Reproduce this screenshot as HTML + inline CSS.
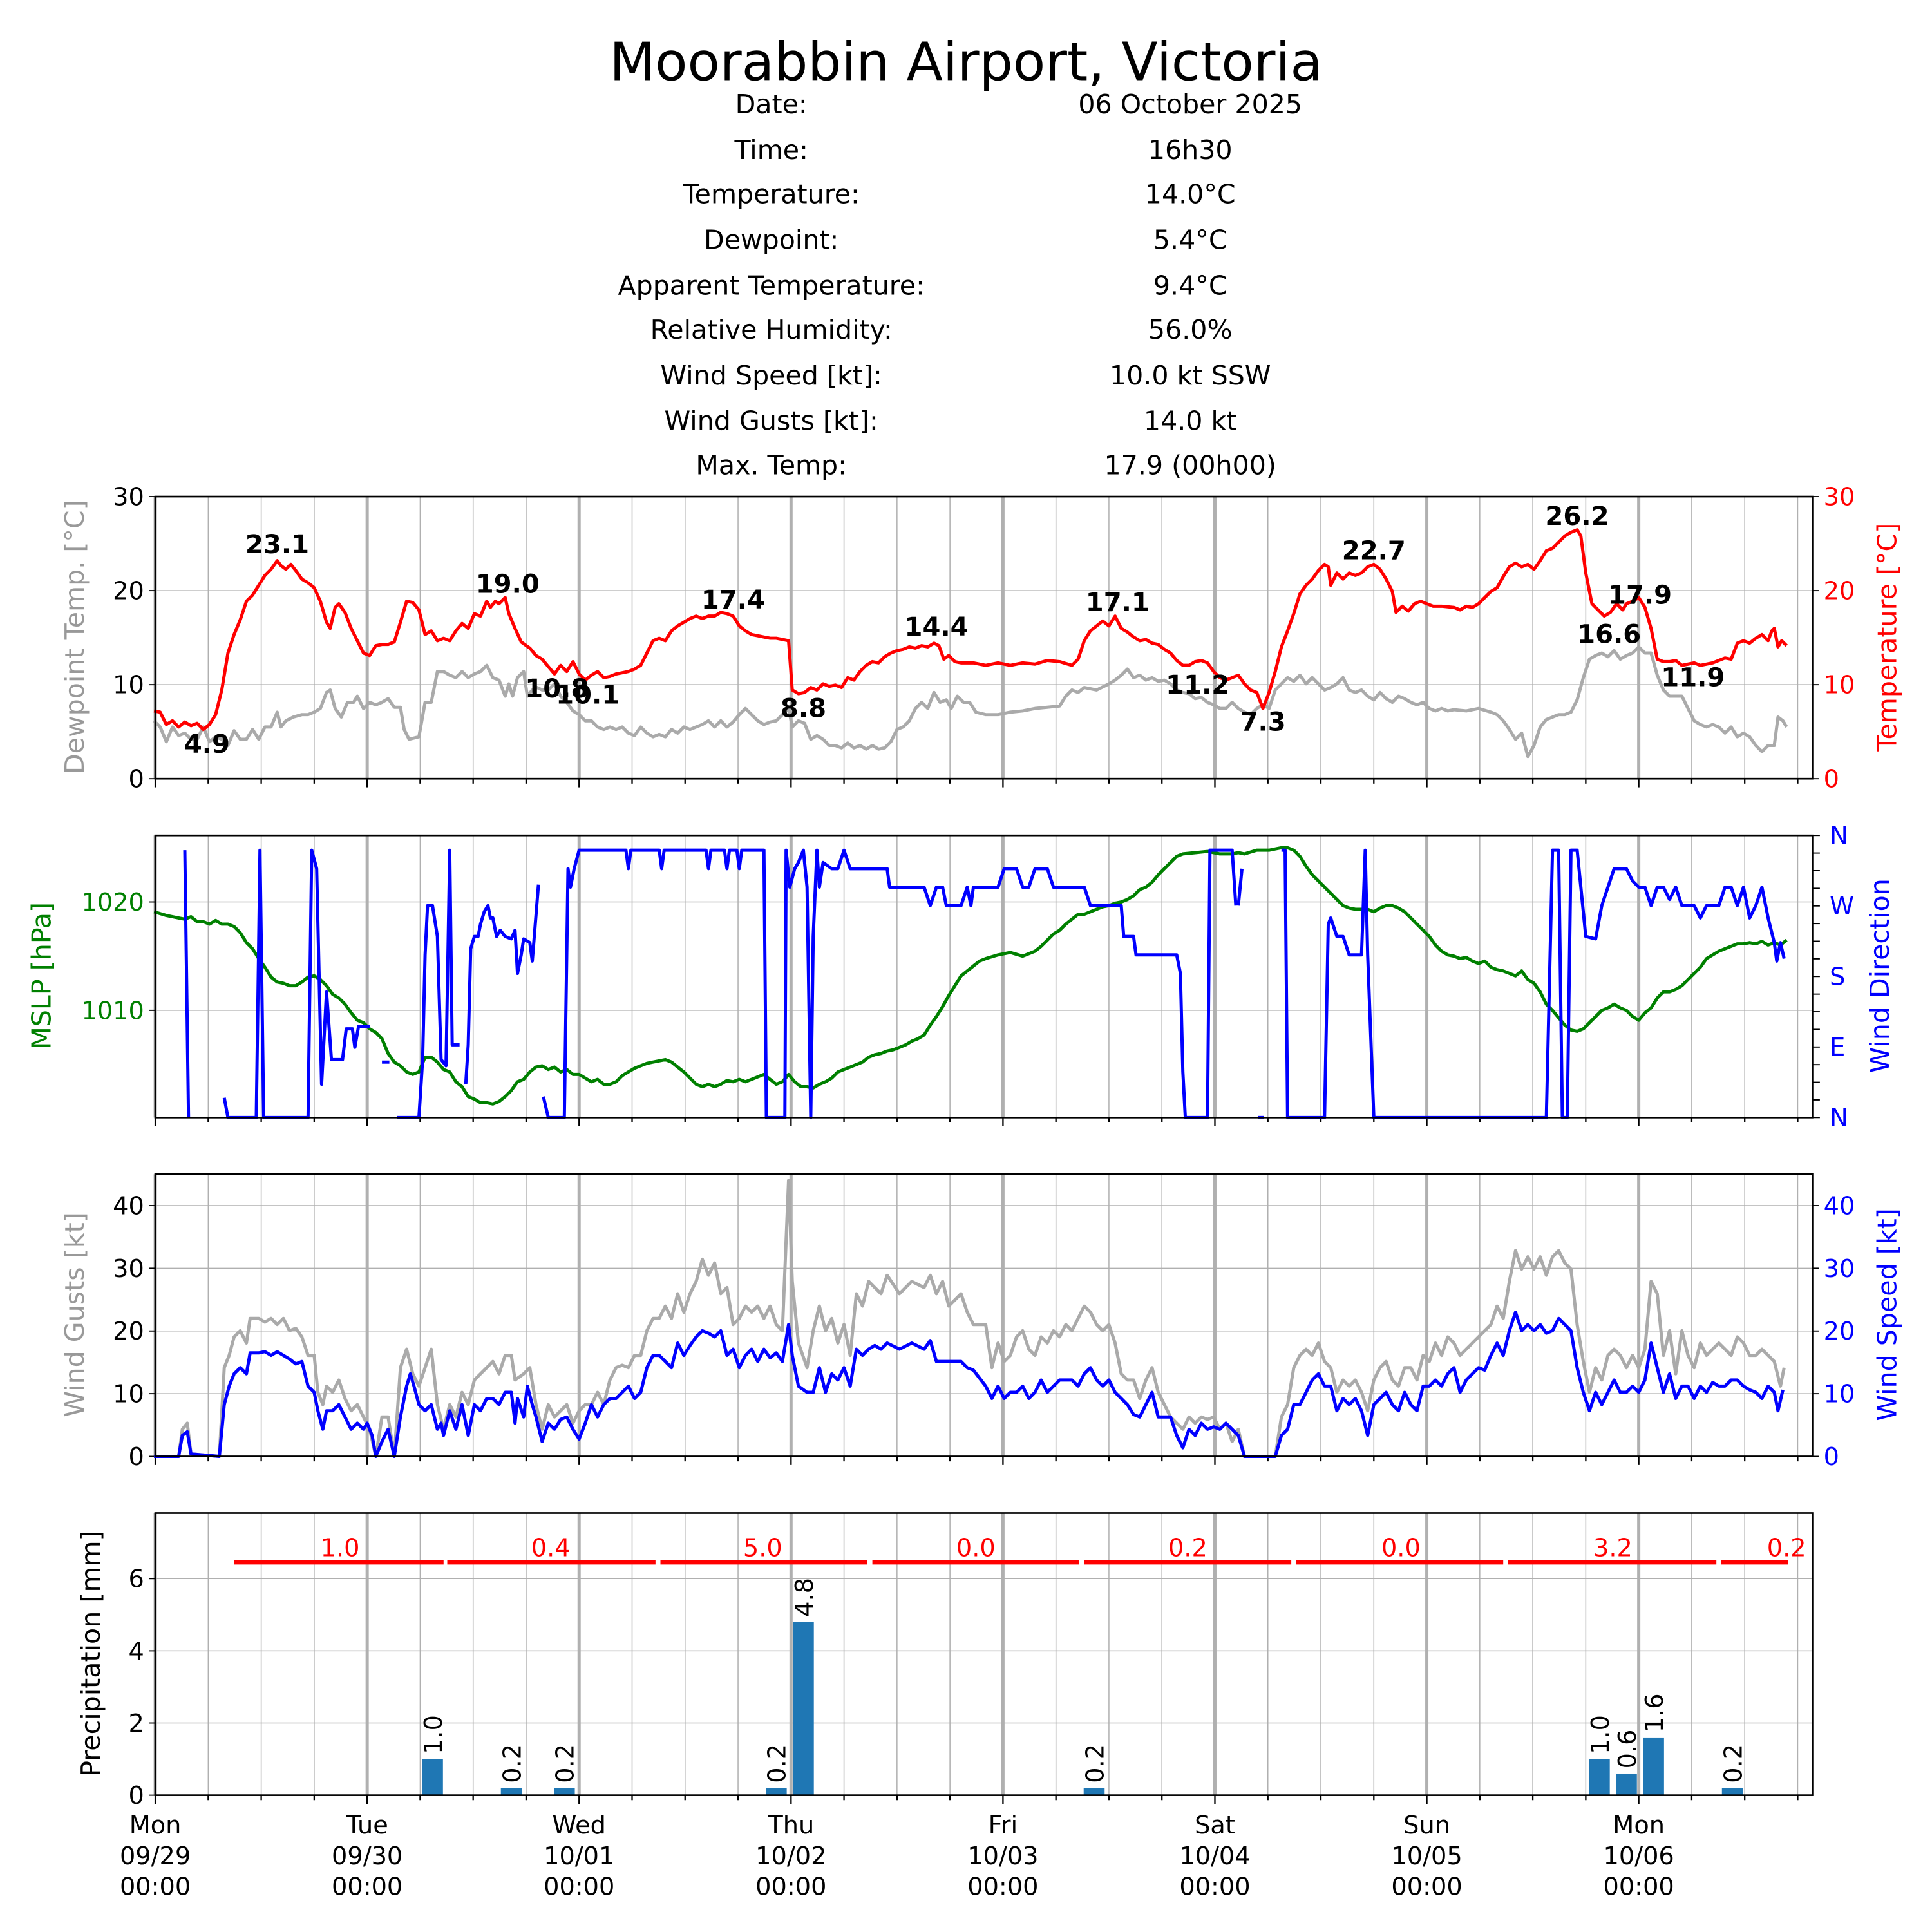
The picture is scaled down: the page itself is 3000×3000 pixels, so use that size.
<!DOCTYPE html>
<html><head><meta charset="utf-8"><style>
html,body{margin:0;padding:0;background:#fff;width:3000px;height:3000px;overflow:hidden}
svg{display:block}
text{font-family:"DejaVu Sans","Liberation Sans",sans-serif}
</style></head><body>
<svg id="s" width="3000" height="3000" viewBox="0 0 1568 1568" xmlns="http://www.w3.org/2000/svg">
<rect width="1568" height="1568" fill="#fff"/>
<g id="g"></g>
<text x="784" y="65" font-size="43" text-anchor="middle">Moorabbin Airport, Victoria</text>
<g font-size="21.5" text-anchor="middle">
<text x="626" y="92">Date:</text><text x="966" y="92">06 October 2025</text>
<text x="626" y="129">Time:</text><text x="966" y="129">16h30</text>
<text x="626" y="165">Temperature:</text><text x="966" y="165">14.0°C</text>
<text x="626" y="202">Dewpoint:</text><text x="966" y="202">5.4°C</text>
<text x="626" y="239">Apparent Temperature:</text><text x="966" y="239">9.4°C</text>
<text x="626" y="275">Relative Humidity:</text><text x="966" y="275">56.0%</text>
<text x="626" y="312">Wind Speed [kt]:</text><text x="966" y="312">10.0 kt SSW</text>
<text x="626" y="349">Wind Gusts [kt]:</text><text x="966" y="349">14.0 kt</text>
<text x="626" y="385">Max. Temp:</text><text x="966" y="385">17.9 (00h00)</text>
</g>
<g font-size="21.5">
<text transform="translate(68,517) rotate(-90)" text-anchor="middle" fill="#999">Dewpoint Temp. [°C]</text>
<text transform="translate(1539,517) rotate(-90)" text-anchor="middle" fill="red">Temperature [°C]</text>
<text transform="translate(41,792) rotate(-90)" text-anchor="middle" fill="green">MSLP [hPa]</text>
<text transform="translate(1533,792) rotate(-90)" text-anchor="middle" fill="blue">Wind Direction</text>
<text transform="translate(68,1067) rotate(-90)" text-anchor="middle" fill="#999">Wind Gusts [kt]</text>
<text transform="translate(1539,1067) rotate(-90)" text-anchor="middle" fill="blue">Wind Speed [kt]</text>
<text transform="translate(81,1342) rotate(-90)" text-anchor="middle">Precipitation [mm]</text>
</g>
</svg>
<script>
const NS="http://www.w3.org/2000/svg";const G=document.getElementById('g');
function el(t,a,txt){const e=document.createElementNS(NS,t);for(const k in a)e.setAttribute(k,a[k]);if(txt!==undefined)e.textContent=txt;G.appendChild(e);return e;}
const L=126,R=1471,D=172,FS=20;
const P=[[403,632],[678,907],[953,1182],[1228,1457]];
function pl(pts,col,w){el('polyline',{points:pts.map(p=>p.join(',')).join(' '),fill:'none',stroke:col,'stroke-width':w||2.6,'stroke-linejoin':'round'});}
function pairs(a){const r=[];for(let i=0;i<a.length;i+=2)r.push([a[i],a[i+1]]);return r;}
P.forEach(([t,b],pi)=>{
 for(let h=0;;h+=6){const x=L+h/24*D;if(x>R-5)break;
  const major=h%24==0;
  el('line',{x1:x,y1:t,x2:x,y2:b,stroke:'#b0b0b0','stroke-width':major?2.6:0.8});
  el('line',{x1:x,y1:b,x2:x,y2:b+(major?7:4),stroke:'#000','stroke-width':1.2});
 }
});
function hgrid(pi,ys){ys.forEach(y=>el('line',{x1:L,y1:y,x2:R,y2:y,stroke:'#b0b0b0','stroke-width':0.8}));}
let ys=[0,10,20,30].map(v=>632-v*229/30);hgrid(0,ys);
ys.forEach((y,i)=>{el('line',{x1:L-5,y1:y,x2:L,y2:y,stroke:'#000'});el('line',{x1:R,y1:y,x2:R+5,y2:y,stroke:'#000'});
 el('text',{x:L-9,y:y+7,'font-size':FS,'text-anchor':'end'},String(i*10));el('text',{x:R+9,y:y+7,'font-size':FS,fill:'red'},String(i*10));});
ys=[1010,1020].map(v=>820-(v-1010)*8.8);hgrid(1,ys);
ys.forEach((y,i)=>{el('line',{x1:L-5,y1:y,x2:L,y2:y,stroke:'#000'});el('text',{x:L-9,y:y+7,'font-size':FS,'text-anchor':'end',fill:'green'},i?'1020':'1010');});
for(let k=0;k<=16;k++){const y=907-k*229/16;el('line',{x1:R,y1:y,x2:R+6,y2:y,stroke:'#000'});}
['N','E','S','W','N'].forEach((s,i)=>el('text',{x:R+14,y:907-i*57.25+7,'font-size':FS,fill:'blue'},s));
ys=[0,10,20,30,40].map(v=>1182-v*229/45);hgrid(2,ys);
ys.forEach((y,i)=>{el('line',{x1:L-5,y1:y,x2:L,y2:y,stroke:'#000'});el('line',{x1:R,y1:y,x2:R+5,y2:y,stroke:'#000'});
 el('text',{x:L-9,y:y+7,'font-size':FS,'text-anchor':'end'},String(i*10));el('text',{x:R+9,y:y+7,'font-size':FS,fill:'blue'},String(i*10));});
ys=[0,2,4,6].map(v=>1457-v*29.3);hgrid(3,ys);
ys.forEach((y,i)=>{el('line',{x1:L-5,y1:y,x2:L,y2:y,stroke:'#000'});el('text',{x:L-9,y:y+7,'font-size':FS,'text-anchor':'end'},String(i*2));});
['Mon|09/29','Tue|09/30','Wed|10/01','Thu|10/02','Fri|10/03','Sat|10/04','Sun|10/05','Mon|10/06'].forEach((s,i)=>{const x=L+i*D;const [a,b]=s.split('|');
 el('text',{x:x,y:1488,'font-size':FS,'text-anchor':'middle'},a);el('text',{x:x,y:1513,'font-size':FS,'text-anchor':'middle'},b);el('text',{x:x,y:1538,'font-size':FS,'text-anchor':'middle'},'00:00');});
const temp=pairs([125,577,130,578,135,588,140,585,145,590,150,586,155,589,160,587,165,592,170,588,175,580,180,560,185,530,190,515,195,503,200,488,205,483,210,475,215,467,220,462,225,455,228,459,232,462,236,458,240,463,245,470,250,473,255,477,260,488,265,505,268,510,272,493,275,490,280,497,285,510,290,520,295,530,300,532,305,524,310,523,315,523,320,521,325,505,330,488,335,489,340,495,345,515,350,512,355,520,360,518,365,520,370,512,375,506,380,510,385,498,390,500,395,488,398,493,402,488,405,490,410,485,413,498,418,510,423,521,430,526,435,532,440,535,445,541,450,547,455,540,460,545,465,537,470,547,475,552,480,548,485,545,490,550,495,549,500,547,505,546,510,545,515,543,520,540,525,530,530,520,535,518,540,520,545,512,550,508,555,505,560,502,565,500,570,502,575,500,580,500,585,497,590,498,595,500,600,508,605,512,610,515,615,516,620,517,625,518,630,518,635,519,640,520,643,560,648,563,653,562,658,558,663,560,668,555,673,557,678,556,683,558,688,550,693,552,698,545,703,540,708,537,713,538,718,533,723,530,728,528,733,527,738,525,743,526,748,524,753,525,758,522,762,524,766,535,770,532,775,537,780,538,790,538,800,540,810,538,820,540,830,538,840,539,850,536,860,537,870,540,875,535,880,520,885,512,890,508,895,504,900,508,905,500,910,510,915,513,920,517,925,520,930,519,935,522,940,523,945,527,950,530,955,536,960,540,965,540,970,537,975,536,980,538,985,545,990,550,995,552,1000,550,1005,548,1010,555,1015,560,1020,562,1025,575,1030,562,1035,545,1040,525,1045,512,1050,498,1055,482,1060,475,1065,470,1070,463,1075,458,1078,460,1080,475,1085,465,1090,470,1095,465,1100,467,1105,465,1110,460,1115,458,1120,462,1125,470,1130,480,1133,497,1138,492,1143,496,1148,490,1153,488,1158,490,1163,492,1170,492,1180,493,1185,495,1190,492,1195,493,1200,490,1205,485,1210,480,1215,477,1220,468,1225,460,1230,457,1235,460,1240,458,1245,462,1250,455,1255,447,1260,445,1265,440,1270,435,1275,432,1280,430,1283,435,1287,465,1292,490,1297,495,1302,500,1307,497,1312,490,1317,495,1320,490,1325,488,1330,485,1335,493,1340,510,1345,535,1350,537,1355,537,1360,536,1365,540,1370,539,1375,538,1380,540,1390,538,1400,534,1405,535,1410,522,1415,520,1420,522,1425,518,1430,515,1435,520,1438,512,1440,510,1443,525,1446,520,1450,524]);
const dew=pairs([125,585,130,590,135,602,140,590,145,597,150,595,155,600,160,600,165,590,170,602,175,598,180,600,185,605,190,593,195,600,200,600,205,592,210,600,215,590,220,590,225,578,228,590,232,585,238,582,245,580,250,580,255,578,260,575,265,562,268,560,272,575,277,582,282,570,287,570,290,565,295,575,300,570,305,572,310,570,315,567,320,574,325,574,328,592,332,600,340,598,345,570,350,570,355,545,360,545,365,548,370,550,375,545,380,550,385,547,390,545,395,540,400,550,405,552,410,565,413,555,416,565,420,550,425,545,428,565,432,560,436,558,440,560,445,560,450,555,455,565,460,570,465,577,470,580,475,585,480,585,485,590,490,592,495,590,500,592,505,590,510,595,515,597,520,590,525,595,530,598,535,596,540,598,545,592,550,595,555,590,560,592,565,590,570,588,575,585,580,590,585,585,590,590,595,586,600,580,605,575,610,580,615,585,620,588,625,586,630,585,635,580,640,575,643,590,648,585,653,587,658,600,663,597,668,600,673,605,678,605,683,607,688,603,693,607,698,605,703,608,708,605,713,608,718,607,723,602,728,592,733,590,738,585,743,575,748,570,753,575,758,562,763,570,768,568,772,575,777,565,782,570,787,570,792,578,800,580,810,580,820,578,830,577,840,575,850,574,860,573,865,565,870,560,875,562,880,558,890,560,900,555,905,552,910,548,915,543,920,550,925,548,930,552,935,550,940,553,945,552,950,555,955,560,960,562,965,563,970,567,975,566,980,570,985,572,990,575,995,575,1000,570,1005,575,1010,578,1015,580,1020,575,1025,572,1030,575,1035,560,1040,555,1045,550,1050,553,1055,548,1060,555,1065,550,1070,555,1075,560,1080,558,1085,555,1090,550,1095,560,1100,562,1105,560,1110,565,1115,568,1120,562,1125,567,1130,570,1135,565,1140,567,1145,570,1150,572,1155,570,1160,575,1165,577,1170,575,1175,577,1180,576,1190,577,1200,575,1210,578,1215,580,1220,585,1225,592,1230,600,1235,595,1240,614,1245,605,1250,590,1255,584,1260,582,1265,580,1270,580,1275,578,1280,568,1285,550,1290,535,1295,532,1300,530,1305,533,1310,528,1315,535,1320,532,1325,530,1330,525,1335,530,1340,530,1345,548,1350,560,1355,565,1360,565,1365,565,1370,575,1375,585,1380,588,1385,590,1390,588,1395,590,1400,595,1405,590,1410,598,1415,595,1420,598,1425,605,1430,610,1435,605,1440,605,1443,582,1447,585,1450,590]);
pl(dew,'#aaa');pl(temp,'red');
[['23.1',225,449],['4.9',168,611],['19.0',412,481],['10.8',452,566],['10.1',477,571],['17.4',595,494],['8.8',652,582],['14.4',760,516],['17.1',907,496],['11.2',972,563],['7.3',1025,593],['22.7',1115,454],['26.2',1280,426],['17.9',1331,490],['16.6',1306,522],['11.9',1374,557]].forEach(a=>el('text',{x:a[1],y:a[2],'font-size':21,'font-weight':'bold','text-anchor':'middle'},a[0]));
const ms=pairs([125,740,135,743,145,745,150,746,155,744,160,748,165,748,170,750,175,747,180,750,185,750,190,752,195,757,200,765,205,770,210,778,215,785,220,793,225,797,230,798,235,800,240,800,245,797,250,793,255,792,260,795,265,800,270,807,275,810,280,815,285,822,290,828,295,830,300,835,305,838,310,843,315,855,320,862,325,865,330,870,335,872,340,870,345,858,350,858,355,862,360,868,365,870,370,878,375,882,380,890,385,892,390,895,395,895,400,896,405,894,410,890,415,885,420,878,425,876,430,870,435,866,440,865,445,868,450,866,455,870,460,868,465,872,470,872,475,875,480,878,485,876,490,880,495,880,500,878,505,873,510,870,515,867,520,865,525,863,530,862,535,861,540,860,545,862,550,866,555,870,560,875,565,880,570,882,575,880,580,882,585,880,590,877,595,878,600,876,605,878,610,876,615,874,620,872,625,876,630,880,635,878,640,872,645,878,650,882,655,882,660,883,665,880,670,878,675,875,680,870,685,868,690,866,695,864,700,862,705,858,710,856,715,855,720,853,725,852,730,850,735,848,740,845,745,843,750,840,755,832,760,825,765,817,770,808,775,800,780,792,785,788,790,784,795,780,800,778,810,775,820,773,830,776,840,772,845,768,850,763,855,758,860,755,865,750,870,746,875,742,880,742,885,740,890,738,895,736,900,735,905,733,910,732,915,730,920,727,925,722,930,720,935,716,940,710,945,705,950,700,955,695,960,693,970,692,980,691,990,693,1000,693,1005,692,1010,693,1020,690,1030,690,1035,689,1040,688,1045,688,1050,690,1055,695,1060,703,1065,710,1070,715,1075,720,1080,725,1085,730,1090,735,1095,737,1100,738,1110,738,1115,740,1120,737,1125,735,1130,735,1135,737,1140,740,1145,745,1150,750,1155,755,1160,760,1165,767,1170,772,1175,775,1180,776,1185,778,1190,777,1195,780,1200,782,1205,780,1210,785,1215,787,1220,788,1225,790,1230,792,1235,788,1240,795,1245,798,1250,805,1255,815,1260,820,1265,826,1270,832,1275,836,1280,837,1285,835,1290,830,1295,825,1300,820,1305,818,1310,815,1315,818,1320,820,1325,825,1330,828,1335,822,1340,818,1345,810,1350,805,1355,805,1360,803,1365,800,1370,795,1375,790,1380,785,1385,778,1390,775,1395,772,1400,770,1405,768,1410,766,1415,766,1420,765,1425,766,1430,764,1435,767,1440,765,1445,767,1450,763]);
pl(ms,'green');
const wd=[
[150,690,153,907],
[182,891,185,907,208,907,211,690,214,907,250,907,253,690,257,705,261,880,265,805,269,860,278,860,281,835,286,835,288,850,291,833,300,833],
[310,862,316,862],
[322,907,340,907,343,860,345,775,347,735,351,735,355,760,358,860,362,865,365,690,367,848,373,848],
[378,880,380,848,382,770,385,760,388,760,390,750,393,740,396,735,398,745,400,745,403,760,406,755,410,760,415,762,418,755,420,790,423,775,425,762,430,765,432,780,437,718],
[441,890,445,907,458,907,461,705,463,720,466,705,470,690,508,690,510,705,512,690,535,690,537,705,539,690,573,690,575,705,577,690,588,690,590,705,592,690,598,690,600,705,602,690,620,690,622,907,637,907,638,690,641,720,645,705,648,700,652,690,655,720,658,907,660,760,663,690,665,720,668,700,675,705,680,705,685,690,690,705,720,705,722,720,750,720,755,735,760,720,765,720,768,735,780,735,785,720,788,735,790,720,810,720,815,705,825,705,830,720,835,720,840,705,850,705,855,720,880,720,885,735,910,735,912,760,920,760,922,775,955,775,958,790,960,870,962,907,980,907,982,690,1000,690,1003,735],
[1005,735,1008,705],
[1021,907,1026,907],
[1040,690,1043,690,1045,907,1075,907,1078,750,1080,745,1085,760,1090,760,1095,775,1105,775,1108,690,1110,775,1115,907,1255,907,1260,690,1265,690,1268,907,1272,907,1275,690,1280,690,1283,720,1287,760,1295,762,1300,735,1310,705,1320,705,1325,715,1330,720,1335,720,1340,735,1345,720,1350,720,1355,730,1360,720,1365,735,1375,735,1380,745,1385,735,1395,735,1400,720,1405,720,1410,735,1415,720,1420,745,1425,735,1430,720,1435,745,1440,765,1442,780,1445,765,1448,778]];
wd.forEach(s=>pl(pairs(s),'blue'));
const sp=pairs([125,1182,145,1182,148,1165,152,1162,155,1180,178,1182,182,1140,186,1125,190,1115,195,1110,200,1115,203,1098,210,1098,215,1097,220,1100,225,1097,230,1100,235,1103,240,1107,245,1105,250,1125,255,1130,258,1145,262,1160,265,1145,270,1145,275,1140,280,1150,285,1160,290,1155,295,1160,298,1155,302,1165,305,1182,310,1170,315,1160,320,1182,325,1150,330,1125,333,1115,336,1125,340,1140,345,1145,350,1140,355,1160,358,1155,360,1165,365,1145,370,1160,375,1140,380,1165,385,1140,390,1145,395,1135,400,1135,405,1140,410,1130,415,1130,418,1155,420,1135,425,1150,428,1125,432,1140,435,1150,440,1170,445,1155,450,1160,455,1152,460,1150,465,1160,470,1168,475,1155,480,1140,485,1150,490,1140,495,1135,500,1135,505,1130,510,1125,515,1135,520,1130,525,1110,530,1100,535,1100,540,1105,545,1110,550,1090,555,1100,560,1092,565,1085,570,1080,575,1082,580,1085,585,1080,590,1100,595,1095,600,1110,605,1100,610,1095,615,1105,620,1095,625,1102,630,1098,635,1105,640,1075,643,1100,648,1125,655,1130,660,1130,665,1110,670,1130,675,1115,680,1120,685,1110,690,1125,695,1095,700,1100,705,1095,710,1092,715,1095,720,1090,730,1095,740,1090,750,1095,755,1088,760,1105,765,1105,770,1105,780,1105,785,1110,790,1112,800,1125,805,1135,810,1125,815,1135,820,1130,825,1130,830,1125,835,1135,840,1130,845,1120,850,1130,855,1125,860,1120,865,1120,870,1120,875,1125,880,1115,885,1110,890,1120,895,1125,900,1120,905,1130,910,1135,915,1140,920,1148,925,1150,930,1140,935,1130,940,1150,945,1150,950,1150,955,1165,960,1175,965,1160,970,1165,975,1155,980,1160,985,1158,990,1160,995,1155,1000,1160,1005,1165,1010,1182,1035,1182,1040,1165,1045,1160,1050,1140,1055,1140,1060,1130,1065,1120,1070,1115,1075,1125,1080,1125,1085,1145,1090,1135,1095,1140,1100,1135,1105,1145,1110,1165,1115,1140,1120,1135,1125,1130,1130,1140,1135,1145,1140,1130,1145,1140,1150,1145,1155,1125,1160,1125,1165,1120,1170,1125,1175,1115,1180,1110,1185,1130,1190,1120,1195,1115,1200,1110,1205,1112,1210,1100,1215,1090,1220,1100,1225,1080,1230,1065,1235,1080,1240,1075,1245,1080,1250,1075,1255,1082,1260,1080,1265,1070,1270,1075,1275,1080,1280,1110,1285,1130,1290,1145,1295,1130,1300,1140,1305,1130,1310,1120,1315,1130,1320,1130,1325,1125,1330,1130,1335,1120,1340,1090,1345,1110,1350,1130,1355,1115,1360,1135,1365,1125,1370,1125,1375,1135,1380,1125,1385,1130,1390,1122,1395,1125,1400,1125,1405,1120,1410,1120,1415,1125,1420,1128,1425,1130,1430,1135,1435,1125,1440,1130,1443,1145,1447,1128]);
const gu=pairs([125,1182,145,1182,148,1160,152,1155,155,1180,178,1182,182,1110,186,1100,190,1085,195,1080,200,1090,203,1070,210,1070,215,1073,220,1070,225,1075,230,1070,235,1080,240,1078,245,1085,250,1100,255,1100,258,1130,262,1140,265,1125,270,1130,275,1120,280,1135,285,1145,290,1140,295,1150,300,1160,305,1182,310,1150,315,1150,320,1182,325,1110,330,1095,335,1115,340,1125,345,1110,350,1095,355,1140,360,1160,365,1140,370,1150,375,1130,380,1140,385,1120,390,1115,395,1110,400,1105,405,1115,410,1100,415,1100,418,1120,425,1115,430,1110,435,1140,440,1160,445,1140,450,1150,455,1145,460,1140,465,1155,470,1145,475,1140,480,1140,485,1130,490,1140,495,1120,500,1110,505,1108,510,1110,515,1100,520,1100,525,1080,530,1070,535,1070,540,1060,545,1070,550,1050,555,1065,560,1050,565,1040,570,1022,575,1035,580,1025,585,1050,590,1045,595,1075,600,1070,605,1060,610,1065,615,1060,620,1070,625,1060,630,1075,635,1080,640,958,643,1040,648,1090,655,1110,660,1080,665,1060,670,1080,675,1070,680,1090,685,1075,690,1100,695,1050,700,1060,705,1040,710,1045,715,1050,720,1035,730,1050,740,1040,750,1045,755,1035,760,1050,765,1040,770,1060,780,1050,785,1065,790,1075,800,1075,805,1110,810,1090,815,1105,820,1100,825,1085,830,1080,835,1095,840,1100,845,1085,850,1090,855,1080,860,1085,865,1075,870,1080,875,1070,880,1060,885,1065,890,1075,895,1080,900,1075,905,1090,910,1115,915,1120,920,1120,925,1135,930,1120,935,1110,940,1130,945,1140,950,1150,955,1155,960,1160,965,1150,970,1155,975,1150,980,1152,985,1150,990,1160,995,1155,1000,1170,1005,1160,1010,1182,1035,1182,1040,1150,1045,1140,1050,1110,1055,1100,1060,1095,1065,1100,1070,1090,1075,1105,1080,1110,1085,1130,1090,1120,1095,1125,1100,1120,1105,1130,1110,1145,1115,1120,1120,1110,1125,1105,1130,1120,1135,1125,1140,1110,1145,1110,1150,1120,1155,1100,1160,1105,1165,1090,1170,1100,1175,1085,1180,1090,1185,1100,1190,1095,1195,1090,1200,1085,1205,1080,1210,1075,1215,1060,1220,1070,1225,1040,1230,1015,1235,1030,1240,1020,1245,1030,1250,1020,1255,1035,1260,1020,1265,1015,1270,1025,1275,1030,1280,1075,1285,1105,1290,1130,1295,1110,1300,1120,1305,1100,1310,1095,1315,1100,1320,1110,1325,1100,1330,1110,1335,1095,1340,1040,1345,1050,1350,1100,1355,1080,1360,1115,1365,1080,1370,1100,1375,1110,1380,1090,1385,1100,1390,1095,1395,1090,1400,1095,1405,1100,1410,1085,1415,1090,1420,1100,1425,1100,1430,1095,1435,1100,1440,1105,1445,1125,1448,1110]);
pl(gu,'#aaa');pl(sp,'blue');
[[351,1.0],[415,0.2],[458,0.2],[630,0.2],[652,4.8],[888,0.2],[1298,1.0],[1320,0.6],[1342,1.6],[1406,0.2]].forEach(([x,v])=>{
 const h=v*29.3;el('rect',{x:x-8.5,y:1457-h,width:17,height:h,fill:'#1f77b4'});
 el('text',{transform:`translate(${x+7.5},${1457-h-4}) rotate(-90)`,'font-size':FS},v.toFixed(1));});
[[190,360,'1.0',276],[363,532,'0.4',447],[536,704,'5.0',619],[708,876,'0.0',792],[880,1048,'0.2',964],[1052,1220,'0.0',1137],[1224,1393,'3.2',1309],[1397,1451,'0.2',1450]].forEach(([a,b,t,c])=>{
 el('line',{x1:a,y1:1268,x2:b,y2:1268,stroke:'red','stroke-width':3.5});
 el('text',{x:c,y:1263,'font-size':FS,fill:'red','text-anchor':'middle'},t);});
P.forEach(([t,b])=>el('rect',{x:L,y:t,width:R-L,height:b-t,fill:'none',stroke:'#000','stroke-width':1.4}));
</script>
</body></html>
